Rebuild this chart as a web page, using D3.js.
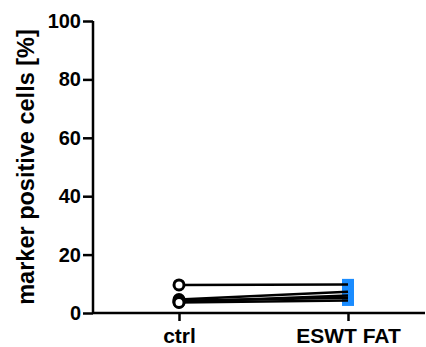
<!DOCTYPE html>
<html>
<head>
<meta charset="utf-8">
<script src="https://cdn.jsdelivr.net/npm/d3@7"></script>
<style>
body { margin: 0; background: #fff; }
text { font-family: "Liberation Sans", Arial, sans-serif; font-weight: bold; }
</style>
</head>
<body>
<script>
const groups = ["ctrl", "ESWT FAT"]
const ctrlValues = [9.6, 4.6, 3.8, 4.2, 3.6]
const eswtValues = [9.8, 7.3, 6.0, 5.2, 4.3]
const yTicks = [0, 20, 40, 60, 80, 100]
const yTitle = "marker positive cells [%]"

const width = 426
const height = 347

const svg = d3.select("body").append("svg")
  .attr("width", width)
  .attr("height", height)

const y = d3.scaleLinear().domain([0, 100]).range([313, 21])
const x = d3.scalePoint().domain(groups).range([179, 348])

// y axis
const yAxis = d3.axisLeft(y).tickValues(yTicks).tickSize(10).tickPadding(2)
const yg = svg.append("g").attr("transform", "translate(93,0)").call(yAxis)
yg.select(".domain").attr("d", "M0," + y(100) + "V" + y(0))
yg.selectAll("path, line").attr("stroke", "#000").attr("stroke-width", 2.5)
yg.selectAll("text").attr("font-size", 20).attr("fill", "#000")
  .attr("font-family", "Liberation Sans, Arial, sans-serif")

// x axis
const xAxis = d3.axisBottom(x).tickSize(8).tickPadding(7)
const xg = svg.append("g").attr("transform", "translate(0," + y(0) + ")").call(xAxis)
xg.select(".domain").attr("d", "M93,0H425")
xg.selectAll("path, line").attr("stroke", "#000").attr("stroke-width", 2.5)
xg.selectAll("text").attr("font-size", 21).attr("fill", "#000")
  .attr("font-family", "Liberation Sans, Arial, sans-serif")

svg.append("text")
  .attr("transform", "translate(34," + y(50) + ") rotate(-90)")
  .attr("text-anchor", "middle")
  .attr("font-size", 23.5)
  .text(yTitle)

const pairs = ctrlValues.map((v, i) => [v, eswtValues[i]])

// ESWT FAT squares
svg.selectAll("rect.eswt")
  .data(eswtValues)
  .enter()
  .append("rect")
  .attr("class", "eswt")
  .attr("x", x("ESWT FAT") - 6)
  .attr("y", d => y(d) - 5.5)
  .attr("width", 12)
  .attr("height", 11)
  .attr("fill", "#1a8cff")

// connecting lines
svg.selectAll("line.pair")
  .data(pairs)
  .enter()
  .append("line")
  .attr("class", "pair")
  .attr("x1", x("ctrl"))
  .attr("y1", d => y(d[0]))
  .attr("x2", x("ESWT FAT"))
  .attr("y2", d => y(d[1]))
  .attr("stroke", "#000")
  .attr("stroke-width", 2.5)

// ctrl circles
svg.selectAll("circle.ctrl")
  .data(ctrlValues)
  .enter()
  .append("circle")
  .attr("class", "ctrl")
  .attr("cx", x("ctrl"))
  .attr("cy", d => y(d))
  .attr("r", 5)
  .attr("fill", "#fff")
  .attr("stroke", "#000")
  .attr("stroke-width", 3)
</script>
</body>
</html>
